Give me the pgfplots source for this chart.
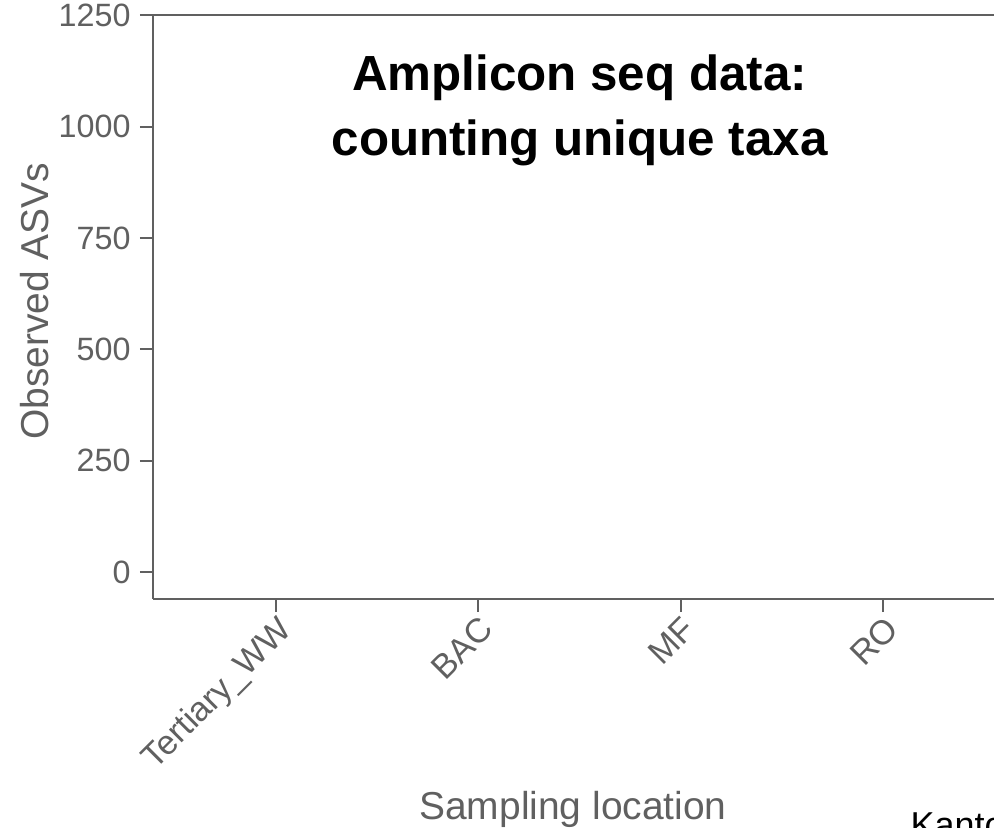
\documentclass[border=0pt]{standalone}
\usepackage{fontspec}
\setmainfont{Liberation Sans}
\usepackage{pgfplots}
\pgfplotsset{compat=1.18}
\definecolor{axgray}{HTML}{606060}

\begin{document}
\begin{tikzpicture}
  \begin{axis}[
      scale only axis,
      width=315.4pt, height=219pt,
      xmin=-0.607, xmax=3.546,
      ymin=-60.6, ymax=1251,
      axis x line*=bottom,
      axis y line*=left,
      axis line style={axgray, line width=0.75pt},
      xtick={0,1,2,3},
      xticklabels={Tertiary\_WW, BAC, MF, RO},
      ytick={0,250,500,750,1000,1250},
      tick align=outside,
      major tick length=4.9pt,
      tick style={axgray, line width=0.75pt},
      every tick label/.append style={text=axgray, font=\fontsize{12.1}{14}\selectfont},
      /pgf/number format/assume math mode=true,
      /pgf/number format/1000 sep={},
      xticklabel style={rotate=45, anchor=north east, inner sep=0.5pt,
        font=\fontsize{12.8}{15}\selectfont},
      xlabel={Sampling location},
      ylabel={Observed ASVs},
      label style={text=axgray, font=\fontsize{14.6}{17}\selectfont},
      xlabel style={at={(rel axis cs:0.4994,-0.3784)}, anchor=base},
      ylabel style={at={(rel axis cs:-0.1403,0.510)}, anchor=center},
      clip=false,
    ]
    % top border of the panel
    \draw[axgray, line width=0.75pt] (rel axis cs:0,1) -- (rel axis cs:1,1);
    \node[anchor=base, font=\fontsize{18.5}{22}\selectfont\bfseries]
      at (axis cs:1.5,1081.7) {Amplicon seq data:};
    \node[anchor=base, font=\fontsize{18.5}{22}\selectfont\bfseries]
      at (axis cs:1.5,935.8) {counting unique taxa};
    \node[anchor=base west, inner sep=0pt, font=\fontsize{13.5}{16}\selectfont]
      at (rel axis cs:0.9001,-0.4092) {Kantor};
    \coordinate (bbsw) at (rel axis cs:-0.1819,-0.3921);
    \coordinate (bbne) at (rel axis cs:1,1.0257);
  \end{axis}
  \pgfresetboundingbox
  \useasboundingbox (bbsw) rectangle (bbne);
\end{tikzpicture}
\end{document}
